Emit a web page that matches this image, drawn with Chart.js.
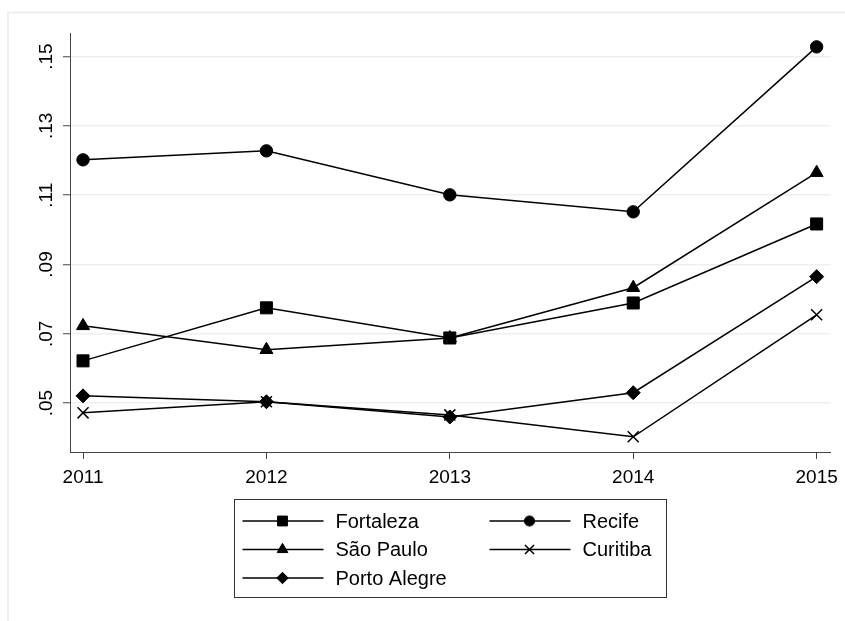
<!DOCTYPE html>
<html>
<head>
<meta charset="utf-8">
<script src="https://cdn.jsdelivr.net/npm/chart.js@4/dist/chart.umd.min.js"></script>
<style>
  html, body { margin: 0; padding: 0; background: #fff; }
  #wrap { width: 845px; height: 621px; }
</style>
</head>
<body>
<div id="wrap"><canvas id="c" width="845" height="621"></canvas></div>
<script>
// Years on the horizontal axis
const years = [2011, 2012, 2013, 2014, 2015];

// Rate per city and year
const fortaleza   = [0.0622, 0.0775, 0.0688, 0.0789, 0.1017];
const recife      = [0.1202, 0.1228, 0.1101, 0.1052, 0.1528];
const saoPaulo    = [0.0723, 0.0654, 0.0688, 0.0833, 0.1165];
const curitiba    = [0.0472, 0.0504, 0.0466, 0.0403, 0.0755];
const portoAlegre = [0.0521, 0.0504, 0.0460, 0.0530, 0.0865];

// Vertical axis ticks and their labels
const yTicks      = [0.05, 0.07, 0.09, 0.11, 0.13, 0.15];
const yTickLabels = ['.05', '.07', '.09', '.11', '.13', '.15'];

const FONT = '"Liberation Sans", Arial, sans-serif';
const toPoints = vals => vals.map((v, i) => ({ x: years[i], y: v }));

function series(label, vals, style, radius, bw) {
  return {
    label,
    data: toPoints(vals),
    borderColor: '#000',
    backgroundColor: '#000',
    borderWidth: 1.5,
    pointStyle: style,
    pointRadius: radius,
    pointHoverRadius: radius,
    pointBackgroundColor: '#000',
    pointBorderColor: '#000',
    pointBorderWidth: bw,
    tension: 0,
    clip: false
  };
}

const datasets = [
  series('Fortaleza', fortaleza, 'rect', 8.5, 1),
  series('Recife', recife, 'circle', 6.2, 1),
  series('São Paulo', saoPaulo, 'triangle', 7.5, 1),
  series('Curitiba', curitiba, 'crossRot', 7.8, 1.5),
  series('Porto Alegre', portoAlegre, 'rectRot', 7, 1)
];

// White page with the light outer frame
const framePlugin = {
  id: 'frame',
  beforeDraw(chart) {
    const ctx = chart.ctx;
    ctx.save();
    ctx.fillStyle = '#fff';
    ctx.fillRect(0, 0, chart.width, chart.height);
    ctx.strokeStyle = '#e9f0f3';
    ctx.lineWidth = 2;
    ctx.beginPath();
    ctx.moveTo(8, chart.height);
    ctx.lineTo(8, 12.5);
    ctx.lineTo(chart.width, 12.5);
    ctx.stroke();
    ctx.restore();
  }
};

// Boxed two-column legend under the plot
const legendPlugin = {
  id: 'boxLegend',
  afterDraw(chart) {
    const ctx = chart.ctx;
    const area = chart.chartArea;
    const boxW = 432, boxH = 98;
    const cx = (area.left + area.right) / 2;
    const left = Math.round(cx - boxW / 2) + 0.5;
    const top = 499.5;
    ctx.save();
    ctx.strokeStyle = '#333';
    ctx.lineWidth = 1;
    ctx.strokeRect(left, top, boxW, boxH);

    const colX = [left + 8, left + 255];
    const rowY = [top + 21.5, top + 50, top + 78.5];
    ctx.font = '20px ' + FONT;
    ctx.textBaseline = 'middle';
    ctx.textAlign = 'left';
    chart.data.datasets.forEach((ds, i) => {
      const x0 = colX[i % 2];
      const y = rowY[Math.floor(i / 2)];
      ctx.strokeStyle = '#000';
      ctx.lineWidth = 1.5;
      ctx.beginPath();
      ctx.moveTo(x0, y);
      ctx.lineTo(x0 + 81, y);
      ctx.stroke();
      ctx.fillStyle = '#000';
      ctx.lineWidth = ds.pointBorderWidth;
      Chart.helpers.drawPoint(ctx, {
        pointStyle: ds.pointStyle,
        radius: ds.pointRadius * 0.82,
        rotation: 0,
        borderWidth: ds.pointBorderWidth
      }, x0 + 40, y);
      ctx.fillStyle = '#000';
      ctx.fillText(ds.label, x0 + 93, y + 1);
    });
    ctx.restore();
  }
};

new Chart(document.getElementById('c'), {
  type: 'line',
  data: { datasets },
  plugins: [framePlugin, legendPlugin],
  options: {
    responsive: false,
    animation: false,
    devicePixelRatio: 1,
    layout: { padding: { left: 0, right: 13, top: 33, bottom: 129 } },
    plugins: { legend: { display: false }, tooltip: { enabled: false } },
    scales: {
      x: {
        type: 'linear',
        min: 2010.929,
        max: 2015.076,
        afterBuildTicks(scale) { scale.ticks = years.map(v => ({ value: v })); },
        afterFit(scale) { scale.height = 40; },
        ticks: {
          callback: v => String(v),
          font: { family: FONT, size: 19 },
          color: '#000',
          padding: 7,
          maxRotation: 0,
          autoSkip: false
        },
        grid: { drawOnChartArea: false, drawTicks: true, tickLength: 7, tickColor: '#444', tickWidth: 1 },
        border: { display: true, color: '#444', width: 1 }
      },
      y: {
        type: 'linear',
        min: 0.0359,
        max: 0.1568,
        afterBuildTicks(scale) { scale.ticks = yTicks.map(v => ({ value: v })); },
        afterFit(scale) { scale.width = 70; },
        ticks: {
          callback: v => yTickLabels[yTicks.findIndex(t => Math.abs(t - v) < 1e-9)],
          font: { family: FONT, size: 19 },
          color: '#000',
          minRotation: 90,
          maxRotation: 90,
          crossAlign: 'center',
          padding: 3,
          autoSkip: false
        },
        grid: { color: '#eaf1f4', lineWidth: 1.5, drawTicks: true, tickLength: 7, tickColor: '#444', tickWidth: 1 },
        border: { display: true, color: '#444', width: 1 }
      }
    }
  }
});
</script>
</body>
</html>
